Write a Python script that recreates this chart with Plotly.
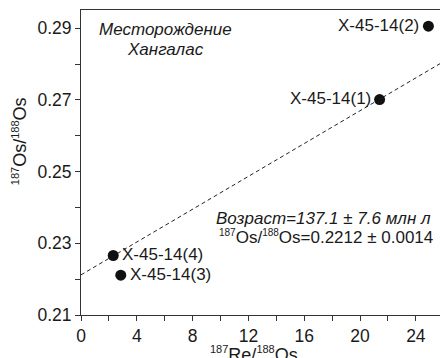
import plotly.graph_objects as go

# Data
sample_labels = ["X-45-14(1)", "X-45-14(2)", "X-45-14(3)", "X-45-14(4)"]
re_os = [21.4, 24.9, 2.85, 2.31]
os_os = [0.2701, 0.2906, 0.2211, 0.2266]

# Isochron parameters
intercept = 0.2212
slope = 0.00229
x_range = [0, 25.73]
y_range = [0.21, 0.2951]

x_ticks = [0, 4, 8, 12, 16, 20, 24]
y_ticks = [0.21, 0.23, 0.25, 0.27, 0.29]

FONT = "Liberation Sans, Arial, sans-serif"
TXT = "#1a1a1a"


def sup(s, px=10):
    return "<sup><span style='font-size:%dpx'>%s</span></sup>" % (px, s)


fig = go.Figure()

line_x = [x_range[0], x_range[1]]
line_y = [intercept + slope * v for v in line_x]
fig.add_trace(go.Scatter(x=line_x, y=line_y, mode="lines",
                         line=dict(color="#222", width=1, dash="4px,3px"),
                         hoverinfo="skip", showlegend=False))

fig.add_trace(go.Scatter(x=re_os, y=os_os, mode="markers",
                         marker=dict(color="#111", size=11),
                         cliponaxis=False, showlegend=False))

# Point labels
label_side = {"X-45-14(1)": "left", "X-45-14(2)": "left",
              "X-45-14(3)": "right", "X-45-14(4)": "right"}
for lab, xv, yv in zip(sample_labels, re_os, os_os):
    side = label_side[lab]
    fig.add_annotation(x=xv, y=yv, text=lab, showarrow=False,
                       xanchor="right" if side == "left" else "left",
                       xshift=-7 if side == "left" else 7,
                       yshift=1,
                       font=dict(family=FONT, size=17, color=TXT))

PH = 304.7
PB = 314.7
# Title block
fig.add_annotation(xref="paper", yref="paper", x=(165 - 81) / 359, y=(PB - 29) / PH,
                   text="<i>Месторождение</i>", showarrow=False,
                   xanchor="center", yanchor="middle",
                   font=dict(family=FONT, size=17, color=TXT))
fig.add_annotation(xref="paper", yref="paper", x=(165 - 81) / 359, y=(PB - 49) / PH,
                   text="<i>Хангалас</i>", showarrow=False,
                   xanchor="center", yanchor="middle",
                   font=dict(family=FONT, size=17, color=TXT))

# Age text
fig.add_annotation(xref="paper", yref="paper", x=(214 - 81) / 359, y=(PB - 218) / PH,
                   text="<i>Возраст=137.1 ± 7.6 млн л</i>", showarrow=False,
                   xanchor="left", yanchor="middle",
                   font=dict(family=FONT, size=17, color=TXT))
fig.add_annotation(xref="paper", yref="paper", x=(217 - 81) / 359, y=(PB - 237) / PH,
                   text=sup("187") + "Os/" + sup("188") + "Os=0.2212 ± 0.0014", showarrow=False,
                   xanchor="left", yanchor="middle",
                   font=dict(family=FONT, size=17, color=TXT))

# Axis titles
fig.add_annotation(xref="paper", yref="paper", x=(254 - 81) / 359, y=0, yshift=-39,
                   text=sup("187", 11) + "Re/" + sup("188", 11) + "Os", showarrow=False,
                   xanchor="center", yanchor="middle",
                   font=dict(family=FONT, size=18, color=TXT))
fig.add_annotation(xref="paper", yref="paper", x=0, xshift=-61, y=(PB - 141) / PH,
                   text=sup("187", 11) + "Os/" + sup("188", 11) + "Os", showarrow=False, textangle=-90,
                   xanchor="center", yanchor="middle",
                   font=dict(family=FONT, size=18, color=TXT))

axis_common = dict(showgrid=False, zeroline=False, showline=True, linecolor="#333", linewidth=1,
                   ticks="outside", ticklen=5, tickwidth=1, tickcolor="#333",
                   tickfont=dict(family=FONT, size=17.5, color=TXT))

fig.update_xaxes(range=x_range, tickvals=x_ticks, mirror=True,
                 minor=dict(dtick=2, tick0=0, ticks="outside", ticklen=5, tickcolor="#333", showgrid=False),
                 **axis_common)
fig.update_yaxes(range=y_range, tickvals=y_ticks, tickformat=".2f",
                 minor=dict(dtick=0.01, tick0=0.21, ticks="outside", ticklen=5, tickcolor="#333", showgrid=False),
                 **axis_common)

fig.update_layout(width=440, height=358,
                  margin=dict(l=81, r=0, t=10, b=43.3, autoexpand=False),
                  plot_bgcolor="white", paper_bgcolor="white",
                  font=dict(family=FONT, color=TXT))

fig.write_html("out.html", config={"displayModeBar": False},
               post_script="document.body.style.margin='0px';document.body.style.overflow='hidden';")
